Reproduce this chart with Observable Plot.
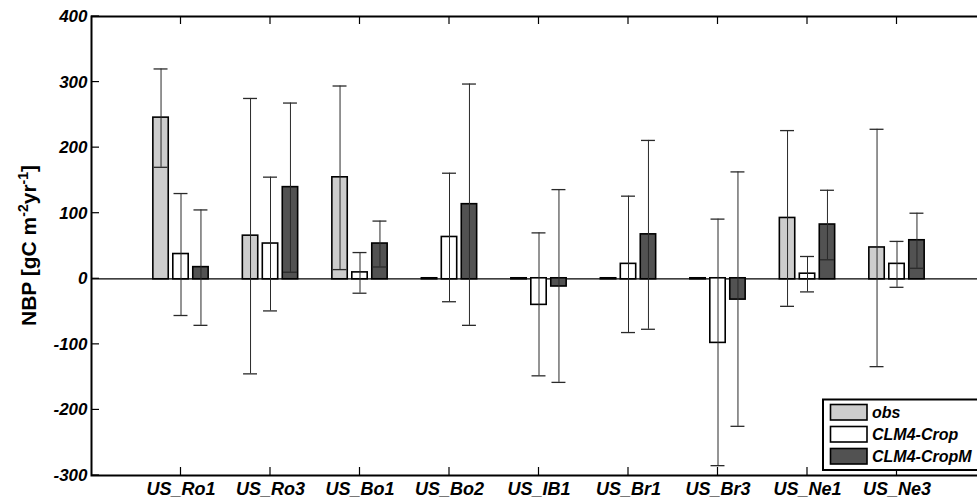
<!DOCTYPE html>
<html>
<head>
<meta charset="utf-8">
<script src="https://cdn.jsdelivr.net/npm/d3@7"></script>
<script src="https://cdn.jsdelivr.net/npm/@observablehq/plot@0.6"></script>
<style>
  html, body { margin: 0; padding: 0; background: #fff; }
  #chart { position: relative; width: 977px; height: 504px; overflow: hidden; }
  svg { font-family: "Liberation Sans", Arial, sans-serif; }
</style>
</head>
<body>
<div id="chart"></div>
<script>
// ---- data ----
const sites = ["US_Ro1", "US_Ro3", "US_Bo1", "US_Bo2", "US_IB1", "US_Br1", "US_Br3", "US_Ne1", "US_Ne3"];
const seriesNames = ["obs", "CLM4-Crop", "CLM4-CropM"];
const seriesColors = ["#cdcdcd", "#ffffff", "#525252"];
const obs      = [245, 65, 154, 0, 0, 0, 0, 92, 47];
const obsErr   = [75, 210, 140, 0, 0, 0, 0, 134, 181];
const crop     = [37, 53, 9, 63, -39, 22, -97, 7, 22];
const cropErr  = [93, 102, 31, 98, 109, 104, 188, 27, 35];
const cropM    = [17, 139, 53, 113, -11, 67, -31, 82, 58];
const cropMErr = [88, 129, 35, 184, 147, 144, 194, 53, 42];
const yTicks = [-300, -200, -100, 0, 100, 200, 300, 400];

// ---- build table ----
const values = [obs, crop, cropM];
const errors = [obsErr, cropErr, cropMErr];
const groupStep = 0.223, halfW = 0.086, capHalf = 0.078;
const rows = [];
sites.forEach((s, i) => {
  seriesNames.forEach((n, j) => {
    rows.push({site: s, pos: i + 1, series: n, j, x: i + 1 + (j - 1) * groupStep, v: values[j][i], e: errors[j][i]});
  });
});
const errRows = rows.filter(d => d.e > 0);
const positions = sites.map((s, i) => i + 1);

const font = {fontFamily: "Liberation Sans, Arial, sans-serif", fontWeight: "bold", fontStyle: "italic"};

const marks = [
  Plot.ruleY([0], {stroke: "#000", strokeWidth: 1.2}),
  ...seriesNames.map((n, j) => Plot.rect(rows.filter(d => d.j === j), {
    x1: d => d.x - halfW, x2: d => d.x + halfW, y1: 0, y2: d => d.v,
    fill: seriesColors[j], stroke: "#000", strokeWidth: 1.6,
    insetTop: -0.5, insetBottom: -0.5
  })),
  Plot.ruleX(errRows, {x: "x", y1: d => d.v - d.e, y2: d => d.v + d.e, stroke: "#2a2a2a", strokeWidth: 1}),
  Plot.ruleY(errRows, {y: d => d.v + d.e, x1: d => d.x - capHalf, x2: d => d.x + capHalf, stroke: "#2a2a2a", strokeWidth: 1.3}),
  Plot.ruleY(errRows, {y: d => d.v - d.e, x1: d => d.x - capHalf, x2: d => d.x + capHalf, stroke: "#2a2a2a", strokeWidth: 1.3}),
  Plot.frame({stroke: "#000", strokeWidth: 2}),
  Plot.axisY({ticks: yTicks, tickSize: 0, tickPadding: 4, label: null, fontSize: 17, ...font, tickFormat: d => String(d)}),
  Plot.axisX({anchor: "bottom", ticks: positions, tickSize: 0, tickPadding: 7, label: null, fontSize: 18, ...font, tickFormat: d => sites[d - 1]})
];

const chart = Plot.plot({
  width: 977,
  height: 504,
  marginLeft: 91,
  marginRight: -9,
  marginTop: 16,
  marginBottom: 29,
  x: {type: "linear", domain: [0, 10]},
  y: {domain: [-300, 400]},
  style: {background: "#fff", color: "#000", overflow: "hidden"},
  marks
});
document.getElementById("chart").appendChild(chart);

const svg = d3.select(chart);
// make sure tick labels are bold italic
svg.selectAll('g[aria-label$="tick label"] text')
  .style("font-style", "italic").style("font-weight", "bold");

const xs = chart.scale("x"), ys = chart.scale("y");
const axLeft = xs.range[0], axTop = ys.range[1], axBottom = ys.range[0];

// ---- inward tick marks ----
const tk = svg.append("g").attr("stroke", "#000").attr("stroke-width", 1.2);
yTicks.forEach(t => {
  const y = ys.apply(t);
  tk.append("line").attr("x1", axLeft).attr("x2", axLeft + 8).attr("y1", y).attr("y2", y);
});
positions.forEach(p => {
  const x = xs.apply(p);
  tk.append("line").attr("x1", x).attr("x2", x).attr("y1", axBottom).attr("y2", axBottom - 8);
  tk.append("line").attr("x1", x).attr("x2", x).attr("y1", axTop).attr("y2", axTop + 8);
});

// ---- y title with superscripts ----
const title = svg.append("text")
  .attr("transform", "translate(36,245.5) rotate(-90)")
  .attr("text-anchor", "middle")
  .attr("font-family", "Liberation Sans, Arial, sans-serif")
  .attr("font-weight", "bold")
  .attr("font-size", 21)
  .attr("fill", "#000");
title.append("tspan").text("NBP [gC m");
title.append("tspan").attr("font-size", 14).attr("dy", -8).text("-2");
title.append("tspan").attr("dy", 8).text("yr");
title.append("tspan").attr("font-size", 14).attr("dy", -8).text("-1");
title.append("tspan").attr("dy", 8).text("]");

// ---- legend ----
const lg = svg.append("g");
lg.append("rect").attr("x", 823).attr("y", 399.5).attr("width", 170).attr("height", 70.5)
  .attr("fill", "#fff").attr("stroke", "#000").attr("stroke-width", 2);
seriesNames.forEach((n, j) => {
  lg.append("rect").attr("x", 830.5).attr("y", 404.5 + 22 * j).attr("width", 36.5).attr("height", 15.5)
    .attr("fill", seriesColors[j]).attr("stroke", "#000").attr("stroke-width", 1.6);
  lg.append("text").attr("x", 872).attr("y", 412.5 + 22 * j).attr("dy", "0.36em")
    .attr("text-anchor", "start")
    .attr("font-family", "Liberation Sans, Arial, sans-serif")
    .attr("font-weight", "bold").attr("font-style", "italic").attr("font-size", 16)
    .attr("fill", "#000").text(n);
});
</script>
</body>
</html>
